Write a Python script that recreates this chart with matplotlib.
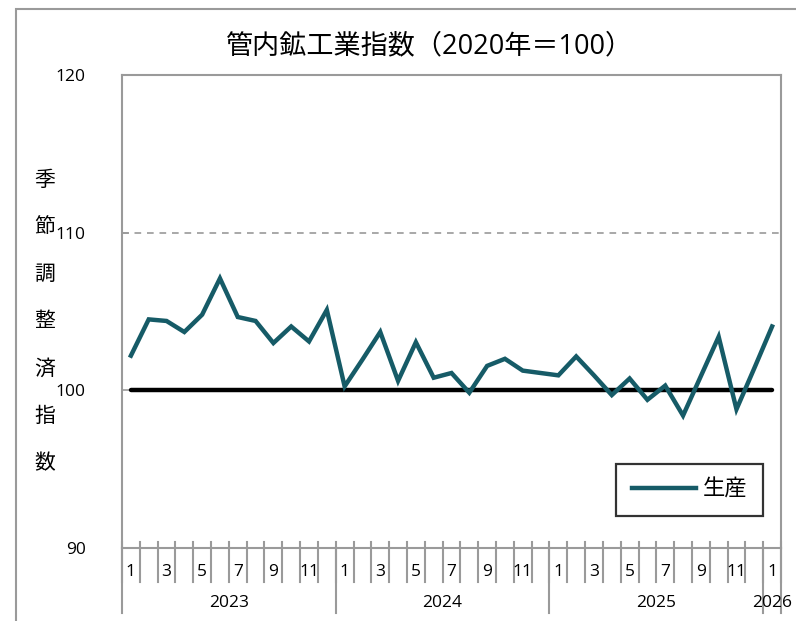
import matplotlib
matplotlib.use("Agg")
import matplotlib.pyplot as plt
from matplotlib.patches import Rectangle

plt.rcParams['font.family'] = ['Open Sans', 'Noto Sans CJK JP', 'DejaVu Sans']

title = "管内鉱工業指数（2020年＝100）"
ylabel_chars = list("季節調整済指数")
series_name = "生産"
years = ["2023", "2024", "2025", "2026"]
year_months = [12, 12, 12, 1]
months = list(range(1, 13)) * 3 + [1]
production = [102.2, 104.5, 104.4, 103.7, 104.8, 107.1, 104.65, 104.4, 103.0, 104.05, 103.1, 105.1,
              100.25, 101.95, 103.7, 100.6, 103.05, 100.8, 101.1, 99.85, 101.55, 102.0, 101.25, 101.1,
              100.95, 102.15, 100.95, 99.7, 100.75, 99.4, 100.3, 98.4, 100.9, 103.4, 98.8, 101.4,
              104.05]
yticks = [90, 100, 110, 120]
baseline = 100

W, H = 796, 621
fig = plt.figure(figsize=(W / 100, H / 100), dpi=100)
ax = fig.add_axes([122 / W, 1 - 548 / H, (781 - 122) / W, (548 - 75) / H])

gray = '#9a9a9a'
teal = '#165b67'
n = len(production)
xs = list(range(n))

# figure frame (cropped on right/bottom)
fig.add_artist(Rectangle((16 / W, -0.1), 2, 1 - 9 / H + 0.1, transform=fig.transFigure,
                         fill=False, edgecolor=gray, linewidth=1.5))

ax.set_xlim(-0.5, n - 0.5)
ax.set_ylim(yticks[0], yticks[-1])
ax.axhline(110, color=gray, linestyle=(0, (4, 3.5)), linewidth=1.2, zorder=1)
ax.plot([xs[0], xs[-1]], [baseline, baseline], color='black', linewidth=3.2,
        solid_capstyle='round', zorder=2)
line, = ax.plot(xs, production, color=teal, linewidth=3.2, solid_joinstyle='miter', zorder=3)

for s in ax.spines.values():
    s.set_color(gray)
    s.set_linewidth(1.5)

ax.set_yticks(yticks)
ax.set_yticklabels([str(v) for v in yticks], fontsize=12.5)
ax.tick_params(axis='y', direction='in', length=5, color=gray, pad=26, width=1.2)
ax.set_xticks([])

tr = ax.get_xaxis_transform()
# month boundary ticks
for b in range(n + 1):
    xb = b - 0.5
    ax.plot([xb, xb], [0.012, -0.072], color=gray, linewidth=1.5, transform=tr, clip_on=False)
# year separators
start = 0
bounds = [0]
for m in year_months:
    start += m
    bounds.append(start)
for b in bounds:
    ax.plot([b - 0.5, b - 0.5], [0, -0.137], color=gray, linewidth=1.5, transform=tr, clip_on=False)

for i, m in enumerate(months):
    if m % 2 == 1:
        ax.text(i, -0.05, str(m), transform=tr, ha='center', va='center', fontsize=12.5)
for k, y in enumerate(years):
    c = (bounds[k] + bounds[k + 1] - 1) / 2
    ax.text(c, -0.116, y, transform=tr, ha='center', va='center', fontsize=12.5)

fig.text(430 / W, 1 - 46 / H, title, ha='center', va='center', fontsize=19.5)
for j, ch in enumerate(ylabel_chars):
    fig.text(45 / W, 1 - (180 + j * 47.2) / H, ch, ha='center', va='center', fontsize=15)

leg = ax.legend([line], [series_name], loc='lower right', bbox_to_anchor=(0.973, 0.068),
                fontsize=16, frameon=True, fancybox=False, handlelength=2.9,
                borderpad=0.7, handletextpad=0.3, borderaxespad=0)
leg.get_frame().set_edgecolor('black')
leg.get_frame().set_linewidth(1.6)

fig.savefig('out.png', dpi=100)
